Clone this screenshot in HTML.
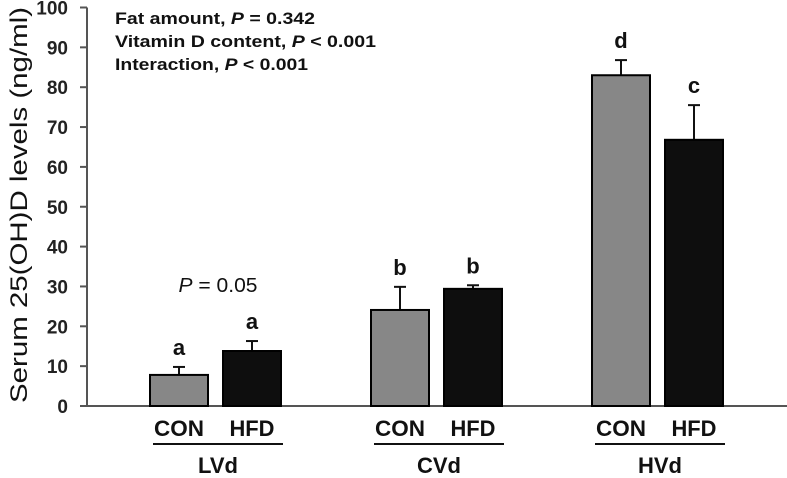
<!DOCTYPE html>
<html><head><meta charset="utf-8"><style>
html,body{margin:0;padding:0;background:#fff;}
svg{display:block;}
text{font-family:"Liberation Sans",sans-serif;}
</style></head><body>
<svg id="chart" width="787" height="478" viewBox="0 0 787 478">
<g id="axes"></g><g id="bars"></g><g id="labels"></g>
<g font-weight="bold" font-size="17" fill="#111">
<text x="115" y="24" textLength="200" lengthAdjust="spacingAndGlyphs">Fat amount, <tspan font-style="italic">P</tspan> = 0.342</text>
<text x="115" y="47" textLength="261" lengthAdjust="spacingAndGlyphs">Vitamin D content, <tspan font-style="italic">P</tspan> &lt; 0.001</text>
<text x="115" y="70" textLength="193" lengthAdjust="spacingAndGlyphs">Interaction, <tspan font-style="italic">P</tspan> &lt; 0.001</text>
</g>
<text x="218" y="292" text-anchor="middle" font-size="20" textLength="79" lengthAdjust="spacingAndGlyphs" fill="#111"><tspan font-style="italic">P</tspan> = 0.05</text>
<text transform="translate(27,205) rotate(-90)" text-anchor="middle" font-size="24" textLength="396" lengthAdjust="spacingAndGlyphs" fill="#111">Serum 25(OH)D levels (ng/ml)</text>
</svg>
<script>
const groups = ["LVd","CVd","HVd"];
const diets = ["CON","HFD"];
const conValues = [7.8, 24.1, 83.0];
const hfdValues = [13.8, 29.4, 66.8];
const conErr = [2.0, 5.8, 3.8];
const hfdErr = [2.5, 0.9, 8.7];
const conLetters = ["a","b","d"];
const hfdLetters = ["a","b","c"];
const yTicks = [0,10,20,30,40,50,60,70,80,90,100];

const NS = "http://www.w3.org/2000/svg";
const y0 = 406, yTop = 7.5, yMax = 100;
function yScale(v){ return y0 - (y0 - yTop) * v / yMax; }
const groupStart = [150, 371, 592], barW = 58, barGap = 15;
function xBar(g, d){ return groupStart[g] + d * (barW + barGap); }
function mk(tag, attrs, parent){ const e = document.createElementNS(NS, tag); for (const k in attrs) e.setAttribute(k, attrs[k]); parent.appendChild(e); return e; }

const axes = document.getElementById("axes");
const bars = document.getElementById("bars");
const labels = document.getElementById("labels");

const yAxis = mk("line", {x1:87, y1:yTop, x2:87, y2:y0, stroke:"#555", "stroke-width":2}, axes);


const xAxis = mk("line", {x1:80, y1:y0, x2:787, y2:y0, stroke:"#555", "stroke-width":2}, axes);



yTicks.forEach(t => {
  const y = yScale(t);
  const tk = mk("line", {x1:80, y1:y, x2:87, y2:y, stroke:"#555", "stroke-width":2}, axes);
  
  
  const tl = mk("text", {x:68, y:y + 7, "text-anchor":"end", "font-size":19, "font-weight":"bold", fill:"#222"}, axes);
  tl.textContent = t;
  
  
});

const series = [conValues, hfdValues], errs = [conErr, hfdErr], lets = [conLetters, hfdLetters];
const fills = ["#878787", "#0e0e0e"];
const dietW = [50, 45];
groups.forEach((g, gi) => {
  diets.forEach((d, di) => {
    const v = series[di][gi], e = errs[di][gi];
    const x = xBar(gi, di), cx = x + barW / 2;
    const top = yScale(v), et = yScale(v + e);
    const el = mk("line", {x1:cx, y1:top, x2:cx, y2:et, stroke:"#111", "stroke-width":2}, bars);
    
    
    const cap = mk("line", {x1:cx - 6, y1:et, x2:cx + 6, y2:et, stroke:"#111", "stroke-width":2}, bars);
    
    
    const r = mk("rect", {x:x, y:top, width:barW, height:y0 - top, fill:fills[di], stroke:"#000", "stroke-width":2}, bars);
    
    
    const lt = mk("text", {x:cx, y:et - 12, "text-anchor":"middle", "font-size":22, "font-weight":"bold", fill:"#111"}, labels);
    lt.textContent = lets[di][gi];
    
    
    const dl = mk("text", {x:cx, y:436, "text-anchor":"middle", "font-size":22, "font-weight":"bold", fill:"#111", textLength:dietW[di], lengthAdjust:"spacingAndGlyphs"}, labels);
    dl.textContent = d;
    
    
  });
  const gx1 = xBar(gi, 0) + 3, gx2 = xBar(gi, 1) + barW + 2;
  const ul = mk("line", {x1:gx1, y1:444, x2:gx2, y2:444, stroke:"#111", "stroke-width":2}, labels);
  
  
  const gl = mk("text", {x:(gx1 + gx2) / 2, y:473, "text-anchor":"middle", "font-size":22, "font-weight":"bold", fill:"#111"}, labels);
  gl.textContent = g;
  
  
});
</script>
</body></html>
